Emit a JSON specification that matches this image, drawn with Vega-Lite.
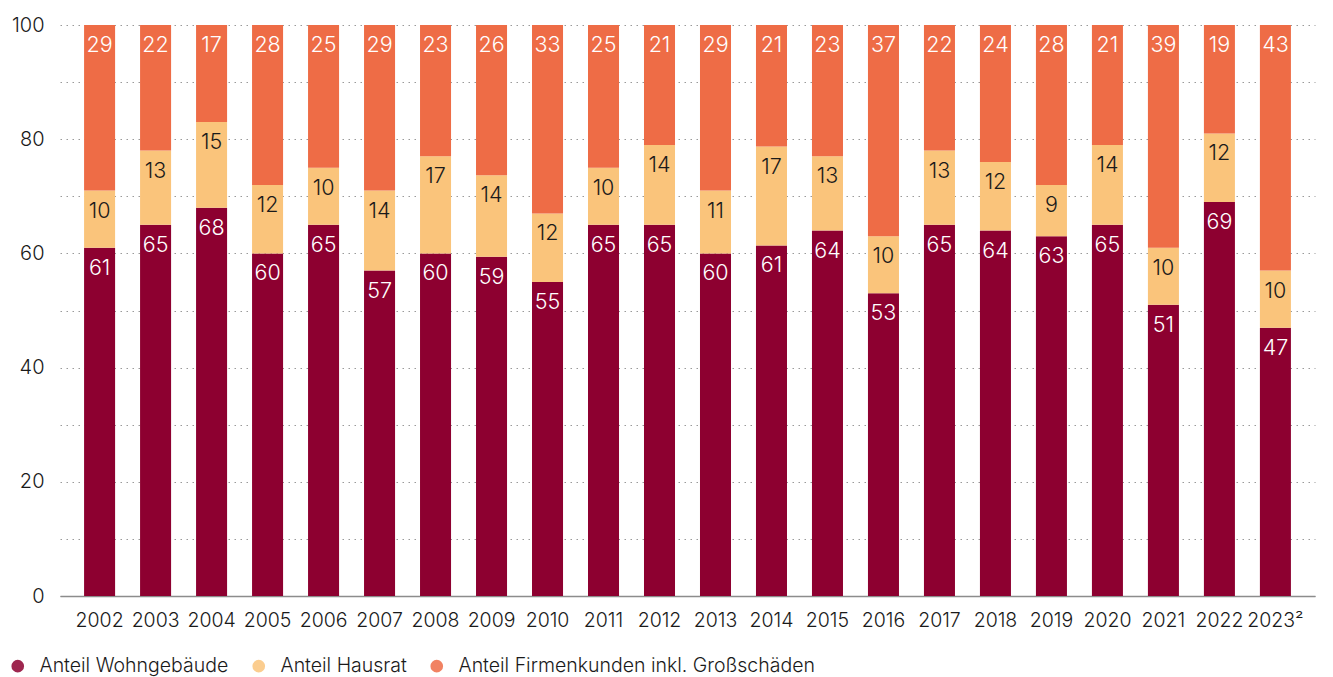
{
  "$schema": "https://vega.github.io/schema/vega-lite/v6.json",
  "autosize": "none",
  "width": 1255,
  "height": 571,
  "padding": {"left": 60, "top": 25, "right": 18, "bottom": 81},
  "config": {
    "font": "Inter",
    "view": {"stroke": null},
    "axis": {"labelFont": "Inter", "labelColor": "#1a1a1a", "labelFontWeight": 300}
  },
  "data": {
    "values": [
      {"jahr": "2002", "kat": "Anteil Wohngebäude", "o": 1, "v": 61},
      {"jahr": "2002", "kat": "Anteil Hausrat", "o": 2, "v": 10},
      {"jahr": "2002", "kat": "Anteil Firmenkunden inkl. Großschäden", "o": 3, "v": 29},
      {"jahr": "2003", "kat": "Anteil Wohngebäude", "o": 1, "v": 65},
      {"jahr": "2003", "kat": "Anteil Hausrat", "o": 2, "v": 13},
      {"jahr": "2003", "kat": "Anteil Firmenkunden inkl. Großschäden", "o": 3, "v": 22},
      {"jahr": "2004", "kat": "Anteil Wohngebäude", "o": 1, "v": 68},
      {"jahr": "2004", "kat": "Anteil Hausrat", "o": 2, "v": 15},
      {"jahr": "2004", "kat": "Anteil Firmenkunden inkl. Großschäden", "o": 3, "v": 17},
      {"jahr": "2005", "kat": "Anteil Wohngebäude", "o": 1, "v": 60},
      {"jahr": "2005", "kat": "Anteil Hausrat", "o": 2, "v": 12},
      {"jahr": "2005", "kat": "Anteil Firmenkunden inkl. Großschäden", "o": 3, "v": 28},
      {"jahr": "2006", "kat": "Anteil Wohngebäude", "o": 1, "v": 65},
      {"jahr": "2006", "kat": "Anteil Hausrat", "o": 2, "v": 10},
      {"jahr": "2006", "kat": "Anteil Firmenkunden inkl. Großschäden", "o": 3, "v": 25},
      {"jahr": "2007", "kat": "Anteil Wohngebäude", "o": 1, "v": 57},
      {"jahr": "2007", "kat": "Anteil Hausrat", "o": 2, "v": 14},
      {"jahr": "2007", "kat": "Anteil Firmenkunden inkl. Großschäden", "o": 3, "v": 29},
      {"jahr": "2008", "kat": "Anteil Wohngebäude", "o": 1, "v": 60},
      {"jahr": "2008", "kat": "Anteil Hausrat", "o": 2, "v": 17},
      {"jahr": "2008", "kat": "Anteil Firmenkunden inkl. Großschäden", "o": 3, "v": 23},
      {"jahr": "2009", "kat": "Anteil Wohngebäude", "o": 1, "v": 59.4},
      {"jahr": "2009", "kat": "Anteil Hausrat", "o": 2, "v": 14.3},
      {"jahr": "2009", "kat": "Anteil Firmenkunden inkl. Großschäden", "o": 3, "v": 26.3},
      {"jahr": "2010", "kat": "Anteil Wohngebäude", "o": 1, "v": 55},
      {"jahr": "2010", "kat": "Anteil Hausrat", "o": 2, "v": 12},
      {"jahr": "2010", "kat": "Anteil Firmenkunden inkl. Großschäden", "o": 3, "v": 33},
      {"jahr": "2011", "kat": "Anteil Wohngebäude", "o": 1, "v": 65},
      {"jahr": "2011", "kat": "Anteil Hausrat", "o": 2, "v": 10},
      {"jahr": "2011", "kat": "Anteil Firmenkunden inkl. Großschäden", "o": 3, "v": 25},
      {"jahr": "2012", "kat": "Anteil Wohngebäude", "o": 1, "v": 65},
      {"jahr": "2012", "kat": "Anteil Hausrat", "o": 2, "v": 14},
      {"jahr": "2012", "kat": "Anteil Firmenkunden inkl. Großschäden", "o": 3, "v": 21},
      {"jahr": "2013", "kat": "Anteil Wohngebäude", "o": 1, "v": 60},
      {"jahr": "2013", "kat": "Anteil Hausrat", "o": 2, "v": 11},
      {"jahr": "2013", "kat": "Anteil Firmenkunden inkl. Großschäden", "o": 3, "v": 29},
      {"jahr": "2014", "kat": "Anteil Wohngebäude", "o": 1, "v": 61.4},
      {"jahr": "2014", "kat": "Anteil Hausrat", "o": 2, "v": 17.3},
      {"jahr": "2014", "kat": "Anteil Firmenkunden inkl. Großschäden", "o": 3, "v": 21.3},
      {"jahr": "2015", "kat": "Anteil Wohngebäude", "o": 1, "v": 64},
      {"jahr": "2015", "kat": "Anteil Hausrat", "o": 2, "v": 13},
      {"jahr": "2015", "kat": "Anteil Firmenkunden inkl. Großschäden", "o": 3, "v": 23},
      {"jahr": "2016", "kat": "Anteil Wohngebäude", "o": 1, "v": 53},
      {"jahr": "2016", "kat": "Anteil Hausrat", "o": 2, "v": 10},
      {"jahr": "2016", "kat": "Anteil Firmenkunden inkl. Großschäden", "o": 3, "v": 37},
      {"jahr": "2017", "kat": "Anteil Wohngebäude", "o": 1, "v": 65},
      {"jahr": "2017", "kat": "Anteil Hausrat", "o": 2, "v": 13},
      {"jahr": "2017", "kat": "Anteil Firmenkunden inkl. Großschäden", "o": 3, "v": 22},
      {"jahr": "2018", "kat": "Anteil Wohngebäude", "o": 1, "v": 64},
      {"jahr": "2018", "kat": "Anteil Hausrat", "o": 2, "v": 12},
      {"jahr": "2018", "kat": "Anteil Firmenkunden inkl. Großschäden", "o": 3, "v": 24},
      {"jahr": "2019", "kat": "Anteil Wohngebäude", "o": 1, "v": 63},
      {"jahr": "2019", "kat": "Anteil Hausrat", "o": 2, "v": 9},
      {"jahr": "2019", "kat": "Anteil Firmenkunden inkl. Großschäden", "o": 3, "v": 28},
      {"jahr": "2020", "kat": "Anteil Wohngebäude", "o": 1, "v": 65},
      {"jahr": "2020", "kat": "Anteil Hausrat", "o": 2, "v": 14},
      {"jahr": "2020", "kat": "Anteil Firmenkunden inkl. Großschäden", "o": 3, "v": 21},
      {"jahr": "2021", "kat": "Anteil Wohngebäude", "o": 1, "v": 51},
      {"jahr": "2021", "kat": "Anteil Hausrat", "o": 2, "v": 10},
      {"jahr": "2021", "kat": "Anteil Firmenkunden inkl. Großschäden", "o": 3, "v": 39},
      {"jahr": "2022", "kat": "Anteil Wohngebäude", "o": 1, "v": 69},
      {"jahr": "2022", "kat": "Anteil Hausrat", "o": 2, "v": 12},
      {"jahr": "2022", "kat": "Anteil Firmenkunden inkl. Großschäden", "o": 3, "v": 19},
      {"jahr": "2023", "kat": "Anteil Wohngebäude", "o": 1, "v": 47},
      {"jahr": "2023", "kat": "Anteil Hausrat", "o": 2, "v": 10},
      {"jahr": "2023", "kat": "Anteil Firmenkunden inkl. Großschäden", "o": 3, "v": 43}
    ]
  },
  "transform": [
    {"stack": "v", "groupby": ["jahr"], "sort": [{"field": "o", "order": "ascending"}], "as": ["y0", "y1"]}
  ],
  "encoding": {
    "x": {
      "field": "jahr", "type": "nominal", "title": null,
      "scale": {"paddingInner": 0.446, "paddingOuter": 0.43},
      "axis": {
        "labelAngle": 0, "labelFontSize": 19.5, "labelPadding": 15, "ticks": false,
        "domainColor": "#8c8c8c", "domainWidth": 1.5, "grid": false,
        "labelExpr": "datum.value == '2023' ? '2023²' : datum.value"
      }
    }
  },
  "layer": [
    {
      "mark": {"type": "bar"},
      "encoding": {
        "y": {
          "field": "y0", "type": "quantitative", "title": null,
          "scale": {"domain": [0, 100], "nice": false},
          "axis": {
            "values": [0, 10, 20, 30, 40, 50, 60, 70, 80, 90, 100], "labelFontSize": 20, "labelPadding": 16,
            "ticks": false, "domain": false, "grid": true, "gridColor": "#9a9a9a",
            "gridDash": [1.5, 4.5], "gridWidth": 1,
            "labelExpr": "datum.value % 20 == 0 ? datum.value : ''"
          }
        },
        "y2": {"field": "y1"},
        "color": {
          "field": "kat", "type": "nominal",
          "sort": ["Anteil Wohngebäude", "Anteil Hausrat", "Anteil Firmenkunden inkl. Großschäden"],
          "scale": {
            "domain": ["Anteil Wohngebäude", "Anteil Hausrat", "Anteil Firmenkunden inkl. Großschäden"],
            "range": ["#8d0030", "#fac47b", "#ee6c46"]
          },
          "legend": {
            "title": null, "orient": "none", "direction": "horizontal",
            "legendX": -52, "legendY": 631, "symbolType": "circle", "symbolSize": 160,
            "symbolStrokeWidth": 0, "labelFontSize": 19.5, "labelColor": "#1a1a1a",
            "labelFont": "Inter", "labelFontWeight": 300, "labelLimit": 0,
            "columnPadding": 20, "labelOffset": 12, "symbolOpacity": 0.85
          }
        }
      }
    },
    {
      "mark": {"type": "text", "baseline": "middle", "align": "center", "dy": 21, "fontSize": 21.5, "font": "Inter", "fontWeight": 300},
      "encoding": {
        "y": {"field": "y1", "type": "quantitative"},
        "text": {"field": "v", "type": "quantitative", "format": ".0f"},
        "color": {
          "condition": {"test": "datum.o == 2", "value": "#1a1a1a"},
          "value": "#ffffff"
        }
      }
    }
  ]
}
